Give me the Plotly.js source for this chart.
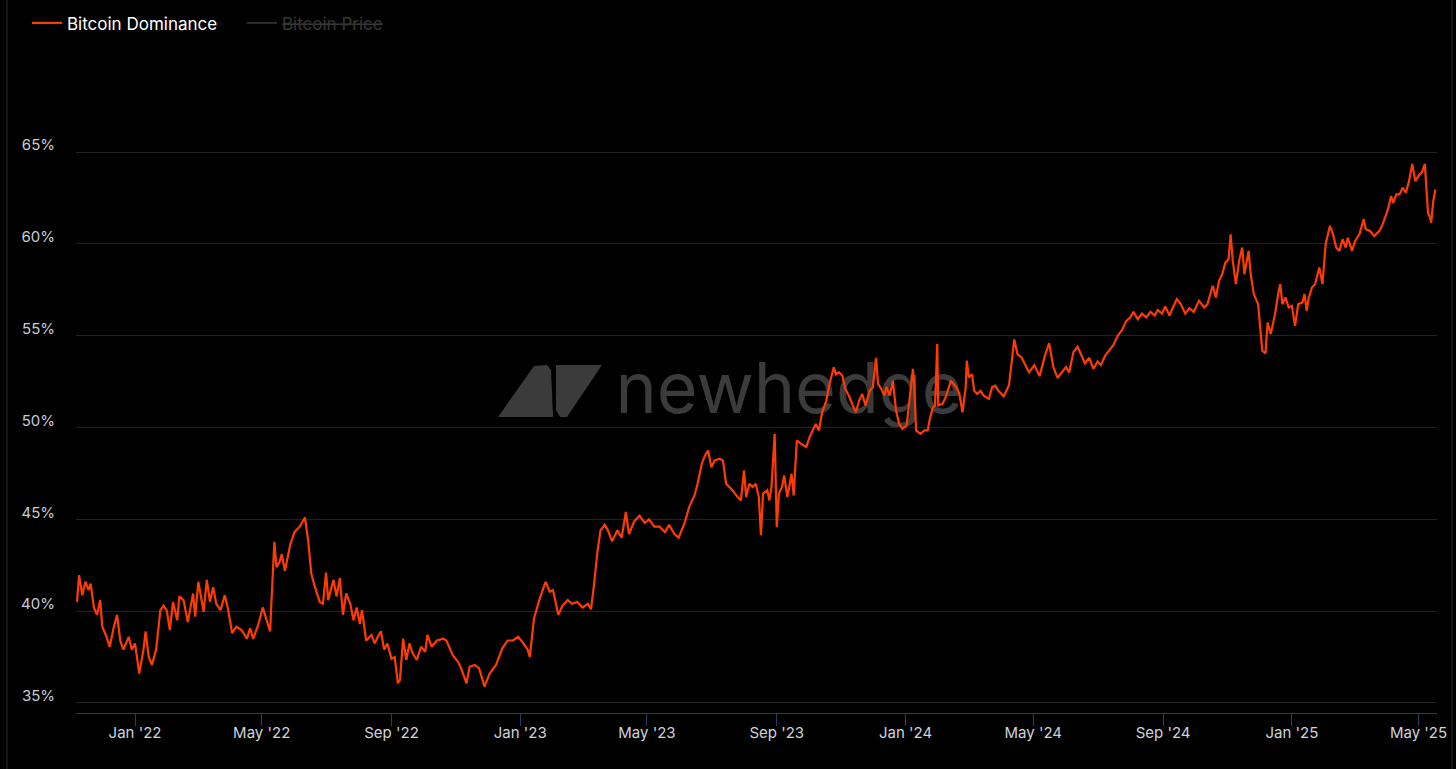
<!DOCTYPE html>
<html>
<head>
<meta charset="utf-8">
<script src="https://cdn.plot.ly/plotly-3.0.1.min.js"></script>
<style>
html,body{margin:0;padding:0;background:#000;}
#chart{width:1456px;height:769px;}
</style>
</head>
<body>
<div id="chart"></div>
<script>
const seriesName = 'Bitcoin Dominance';
const hiddenSeriesName = 'Bitcoin Price';
const yTickVals = [35, 40, 45, 50, 55, 60, 65, 70];
const yTickText = ['35%', '40%', '45%', '50%', '55%', '60%', '65%', ''];
const watermarkText = 'newhedge';

const domDates = [
'2021-11-07','2021-11-09','2021-11-12','2021-11-15','2021-11-18','2021-11-20','2021-11-23','2021-11-26','2021-11-29',
'2021-12-01','2021-12-05','2021-12-08','2021-12-12','2021-12-15','2021-12-18','2021-12-21','2021-12-26','2021-12-29',
'2022-01-01','2022-01-05','2022-01-09','2022-01-11','2022-01-14','2022-01-17','2022-01-21','2022-01-25','2022-01-28','2022-01-31',
'2022-02-03','2022-02-06','2022-02-10','2022-02-12','2022-02-16','2022-02-20','2022-02-25','2022-02-27',
'2022-03-02','2022-03-07','2022-03-10','2022-03-13','2022-03-16','2022-03-19','2022-03-23','2022-03-27','2022-03-30',
'2022-04-03','2022-04-07','2022-04-12','2022-04-17','2022-04-20','2022-04-23','2022-04-28',
'2022-05-02','2022-05-06','2022-05-09','2022-05-10','2022-05-13','2022-05-15','2022-05-18','2022-05-20','2022-05-23','2022-05-28',
'2022-06-01','2022-06-06','2022-06-11','2022-06-14','2022-06-17','2022-06-20','2022-06-25','2022-06-28',
'2022-07-01','2022-07-03','2022-07-08','2022-07-11','2022-07-14','2022-07-17','2022-07-20','2022-07-24','2022-07-27','2022-07-30',
'2022-08-02','2022-08-04','2022-08-08','2022-08-13','2022-08-16','2022-08-19','2022-08-22','2022-08-25','2022-08-28',
'2022-09-01','2022-09-04','2022-09-07','2022-09-09','2022-09-12','2022-09-15','2022-09-18','2022-09-21','2022-09-25','2022-09-29',
'2022-10-03','2022-10-05','2022-10-09','2022-10-14','2022-10-20','2022-10-23','2022-10-29',
'2022-11-03','2022-11-06','2022-11-11','2022-11-14','2022-11-19','2022-11-23','2022-11-28',
'2022-12-03','2022-12-09','2022-12-15','2022-12-20','2022-12-25','2022-12-30',
'2023-01-04','2023-01-08','2023-01-10','2023-01-14','2023-01-19','2023-01-25','2023-01-29',
'2023-02-01','2023-02-06','2023-02-10','2023-02-15','2023-02-19','2023-02-24',
'2023-03-01','2023-03-06','2023-03-09','2023-03-12','2023-03-15','2023-03-18','2023-03-22','2023-03-25','2023-03-29',
'2023-04-03','2023-04-07','2023-04-11','2023-04-14','2023-04-19','2023-04-24','2023-04-29',
'2023-05-03','2023-05-08','2023-05-13','2023-05-18','2023-05-22','2023-05-27','2023-05-31',
'2023-06-06','2023-06-10','2023-06-15','2023-06-18','2023-06-22','2023-06-25','2023-06-28',
'2023-07-01','2023-07-04','2023-07-09','2023-07-12','2023-07-15','2023-07-18','2023-07-21','2023-07-26','2023-07-29',
'2023-08-01','2023-08-03','2023-08-06','2023-08-09','2023-08-12','2023-08-15','2023-08-17','2023-08-19','2023-08-23','2023-08-25','2023-08-27','2023-08-30',
'2023-09-01','2023-09-03','2023-09-06','2023-09-08','2023-09-11','2023-09-15','2023-09-17','2023-09-20','2023-09-24','2023-09-29',
'2023-10-02','2023-10-05','2023-10-08','2023-10-11','2023-10-14','2023-10-18','2023-10-21','2023-10-25','2023-10-27','2023-10-30',
'2023-11-02','2023-11-05','2023-11-09','2023-11-12','2023-11-15','2023-11-18','2023-11-21','2023-11-24','2023-11-28',
'2023-12-01','2023-12-04','2023-12-06','2023-12-09','2023-12-12','2023-12-14','2023-12-17','2023-12-20','2023-12-23','2023-12-26','2023-12-29',
'2024-01-02','2024-01-04','2024-01-08','2024-01-09','2024-01-11','2024-01-15','2024-01-19','2024-01-22','2024-01-24','2024-01-27','2024-01-29','2024-01-31',
'2024-02-01','2024-02-05','2024-02-08','2024-02-13','2024-02-18','2024-02-21','2024-02-24','2024-02-27','2024-02-28',
'2024-03-01','2024-03-04','2024-03-06','2024-03-09','2024-03-12','2024-03-15','2024-03-20','2024-03-23','2024-03-26','2024-03-29',
'2024-04-03','2024-04-08','2024-04-13','2024-04-16','2024-04-20','2024-04-24','2024-04-27',
'2024-05-02','2024-05-07','2024-05-12','2024-05-16','2024-05-20','2024-05-24','2024-05-28',
'2024-06-01','2024-06-04','2024-06-08','2024-06-12','2024-06-16','2024-06-19','2024-06-23','2024-06-27',
'2024-07-01','2024-07-04','2024-07-08','2024-07-12','2024-07-16','2024-07-20','2024-07-24','2024-07-28',
'2024-08-01','2024-08-04','2024-08-08','2024-08-12','2024-08-16','2024-08-20','2024-08-24','2024-08-27','2024-08-31',
'2024-09-03','2024-09-07','2024-09-10','2024-09-14','2024-09-18','2024-09-22','2024-09-26','2024-09-30',
'2024-10-05','2024-10-10','2024-10-13','2024-10-18','2024-10-21','2024-10-24','2024-10-27','2024-10-30',
'2024-11-02','2024-11-04','2024-11-06','2024-11-09','2024-11-12','2024-11-15','2024-11-17','2024-11-21','2024-11-23','2024-11-26','2024-11-30',
'2024-12-02','2024-12-04','2024-12-07','2024-12-09','2024-12-12','2024-12-16','2024-12-19','2024-12-21','2024-12-23','2024-12-26','2024-12-29',
'2025-01-01','2025-01-04','2025-01-07','2025-01-11','2025-01-13','2025-01-15','2025-01-17','2025-01-20','2025-01-23','2025-01-27','2025-01-30',
'2025-02-02','2025-02-06','2025-02-09','2025-02-12','2025-02-15','2025-02-18','2025-02-21','2025-02-23','2025-02-27',
'2025-03-02','2025-03-06','2025-03-10','2025-03-12','2025-03-16','2025-03-20','2025-03-25','2025-03-28',
'2025-04-02','2025-04-05','2025-04-07','2025-04-10','2025-04-13','2025-04-16','2025-04-19','2025-04-22','2025-04-25','2025-04-28',
'2025-05-02','2025-05-04','2025-05-07','2025-05-08','2025-05-10','2025-05-12','2025-05-13','2025-05-15','2025-05-17'
];

const domValues = [
40.5,41.96,40.87,41.6,41.14,41.5,40.2,39.8,40.6,
39.15,38.6,38.06,39.15,39.8,38.4,37.9,38.6,37.9,
38.24,36.6,37.9,38.9,37.5,37.07,37.9,40.05,40.3,40.05,
38.97,40.5,39.5,40.8,40.6,39.4,40.96,39.7,
41.6,39.96,41.7,40.5,41.3,40.4,40.05,40.87,40.15,
38.8,39.15,38.97,38.5,39.06,38.5,39.3,
40.2,39.5,38.9,40.2,43.77,42.4,42.68,43.1,42.2,43.6,
44.3,44.6,45.1,43.86,42.05,41.4,40.5,40.4,
42.1,40.6,41.7,40.8,41.8,39.8,40.96,40.4,39.5,40.2,
39.3,40.05,38.4,38.7,38.24,38.6,38.9,37.9,38.24,
37.4,37.5,36.07,36.25,38.5,37.34,38.24,37.7,37.34,38.06,
37.79,38.7,38.06,38.4,38.5,38.4,37.6,
37.24,36.88,36.07,36.97,37.07,36.88,35.89,
36.6,37.07,37.97,38.4,38.4,38.6,
38.24,37.9,37.5,39.6,40.6,41.6,41.05,
41.14,39.8,40.3,40.6,40.4,40.5,
40.2,40.4,40.1,41.5,43.2,44.4,44.7,44.4,43.8,
44.4,44.0,45.4,44.2,44.9,45.2,44.8,
45.0,44.6,44.6,44.3,44.7,44.2,44.0,
44.85,45.67,46.3,46.94,48.03,48.48,48.75,
47.84,48.2,48.3,48.2,46.94,46.76,46.58,46.21,46.03,
47.66,46.21,46.94,46.76,46.94,46.21,44.13,46.4,46.58,46.03,46.76,49.66,
44.58,46.4,46.76,47.39,46.21,47.48,46.3,49.3,49.11,48.93,
49.47,49.84,50.2,49.84,50.83,51.47,52.38,53.28,52.9,53.0,
52.83,52.1,51.65,51.2,50.83,51.47,51.83,51.2,52.0,
52.2,53.8,52.38,52.1,51.74,52.2,51.74,52.55,50.92,50.2,49.93,
50.11,51.1,53.19,52.55,49.84,49.66,49.84,49.84,50.47,51.1,51.2,54.55,
51.2,51.29,51.65,52.55,52.2,51.83,50.83,52.2,53.64,
52.73,52.9,52.0,51.83,52.0,51.74,51.56,52.2,52.28,52.0,
51.7,52.3,54.8,54.0,53.8,53.3,53.0,
53.4,52.8,53.9,54.6,53.3,52.7,53.0,
53.3,53.0,54.1,54.4,53.9,53.5,53.8,53.2,
53.6,53.4,53.9,54.2,54.5,55.0,55.3,55.8,
56.0,56.3,55.9,56.2,56.0,56.3,56.1,56.4,56.2,
56.6,56.1,56.5,57.0,56.7,56.2,56.5,56.3,
56.9,56.54,56.72,57.72,57.08,57.99,58.35,58.98,
59.17,60.53,59.08,57.81,59.08,59.8,58.35,59.62,58.35,57.27,56.72,
55.45,54.18,54.04,55.72,55.09,56.17,57.27,57.81,56.72,57.08,56.54,
56.63,55.54,56.72,56.81,57.27,56.36,57.08,57.63,57.81,58.71,57.81,
59.99,60.98,60.53,59.8,59.62,60.26,59.8,60.34,59.62,
60.16,60.53,61.34,60.8,60.71,60.43,60.71,61.07,
61.88,62.61,62.24,62.7,62.7,63.06,62.79,63.42,64.36,63.42,
63.79,63.88,64.36,63.42,61.7,61.43,61.16,62.34,62.97
];

const FONT = 'Inter, "Noto Sans", sans-serif';

const traces = [
  {
    type: 'scatter', mode: 'lines',
    x: domDates, y: domValues,
    name: seriesName,
    line: {color: '#ff3c00', width: 2.2},
    hoverinfo: 'skip'
  },
  {
    type: 'scatter', mode: 'lines',
    x: [domDates[0]], y: [null],
    name: '<span style="color:#6a6a6a"><s>' + hiddenSeriesName + '</s></span>',
    visible: 'legendonly',
    showlegend: true,
    line: {color: '#777', width: 1.5}
  }
];

function px(x){ return (x - 76) / 1361; }
function py(y){ return (713 - y) / 653; }

const logoLeft = 'M' + px(498) + ',' + py(417) + ' L' + px(534) + ',' + py(366) + ' L' + px(547) + ',' + py(365) +
  ' L' + px(551) + ',' + py(370) + ' L' + px(553) + ',' + py(417) + ' Z';
const logoRight = 'M' + px(556) + ',' + py(365) + ' L' + px(602) + ',' + py(365) + ' L' + px(567) + ',' + py(417) +
  ' L' + px(560) + ',' + py(417) + ' L' + px(556) + ',' + py(410) + ' Z';

const layout = {
  width: 1456, height: 769,
  paper_bgcolor: '#000', plot_bgcolor: '#000',
  margin: {l: 76, r: 19, t: 60, b: 56},
  font: {family: FONT, color: '#c9ccd6'},
  showlegend: true,
  legend: {
    orientation: 'h', xref: 'container', yref: 'container',
    x: 0.0185, y: 0.993, xanchor: 'left', yanchor: 'top',
    font: {family: FONT, size: 17, color: '#ffffff'},
    bgcolor: 'rgba(0,0,0,0)', entrywidth: 170, entrywidthmode: 'pixels',
    itemclick: false, itemdoubleclick: false
  },
  xaxis: {
    type: 'date',
    range: ['2021-11-06 02:00', '2025-05-18 12:00'],
    tick0: '2022-01-01', dtick: 'M4', tickformat: "%b '%y",
    showgrid: false, zeroline: false,
    showline: true, linecolor: '#2b3a66', linewidth: 1,
    ticks: 'outside', ticklen: 12, tickcolor: '#2b3a66', tickwidth: 1,
    ticklabelstandoff: -6,
    tickfont: {family: FONT, size: 15, color: '#cfd3dc'}
  },
  yaxis: {
    range: [34.45, 70.02],
    tickvals: yTickVals, ticktext: yTickText,
    showgrid: true, gridcolor: '#222222', gridwidth: 1,
    zeroline: false, showline: false, ticks: '',
    ticklabelstandoff: 20, ticklabelshift: -7,
    tickfont: {family: FONT, size: 15, color: '#c9ccd6'}
  },
  shapes: [
    {type: 'path', xref: 'paper', yref: 'paper', path: logoLeft, fillcolor: '#3b3b3b', line: {width: 0}, layer: 'below'},
    {type: 'path', xref: 'paper', yref: 'paper', path: logoRight, fillcolor: '#3b3b3b', line: {width: 0}, layer: 'below'},
    {type: 'rect', xref: 'paper', yref: 'paper', x0: px(610), x1: px(968), y0: py(422), y1: py(349),
     line: {width: 0}, fillcolor: 'rgba(0,0,0,0)', layer: 'below',
     label: {text: watermarkText, textposition: 'middle center', font: {family: FONT, size: 70, color: '#3b3b3b'}}},
    {type: 'line', xref: 'paper', yref: 'paper', x0: px(7), x1: px(7), y0: py(769), y1: py(0), line: {color: '#2a2a2a', width: 1}},
    {type: 'line', xref: 'paper', yref: 'paper', x0: px(1452), x1: px(1452), y0: py(769), y1: py(0), line: {color: '#2a2a2a', width: 1}}
  ]
};

Plotly.newPlot('chart', traces, layout, {displayModeBar: false});
</script>
</body>
</html>
